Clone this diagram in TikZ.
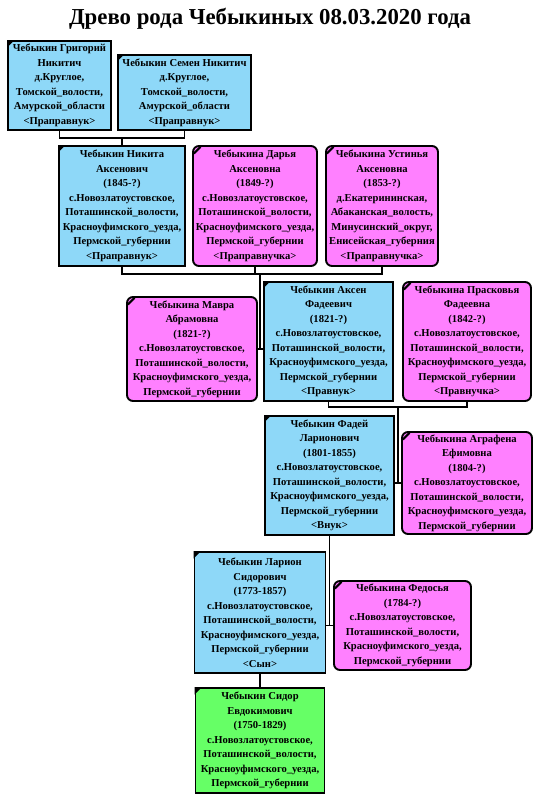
\documentclass[tikz,border=0pt]{standalone}
\usepackage{fontspec}
\setmainfont{Liberation Serif}
\definecolor{boyblue}{RGB}{142,216,248}
\definecolor{girlpink}{RGB}{255,128,255}
\definecolor{rootgreen}{RGB}{102,255,102}
\newcommand\permaddr{с.Новозлатоустовское,\\Поташинской\_волости,\\Красноуфимского\_уезда,\\Пермской\_губернии}
\newcommand\personfont{\fontsize{10.6}{14.5}\selectfont\bfseries}
\tikzset{
  person/.style={draw=black, line width=1.9pt, inner sep=0pt, align=center, font=\personfont},
  male/.style={person, fill=boyblue},
  female/.style={person, fill=girlpink, rounded corners=6pt},
  rootp/.style={person, fill=rootgreen},
  link/.style={draw=black, line width=1.5pt},
  titletext/.style={font=\fontsize{22.8}{26}\selectfont\bfseries}
}
\newcommand\mcorner[1]{\fill[black] (#1.north west) -- ++(7.5,0) -- ++(-7.5,7.5) -- cycle;}
\newcommand\fcorner[1]{\draw[black, line width=2.2pt, shift={(#1.north west)}] (1.8,8.5) -- (8.5,1.8);}
\begin{document}
\begin{tikzpicture}[x=1pt, y=-1pt]
\useasboundingbox[fill=white] (0,0) rectangle (540,800);
\node[titletext] (title) at (270,18.5) {Древо рода Чебыкиных 08.03.2020 года};

% row 1
\node[male, minimum width=103pt, minimum height=89pt] (grig) at (59.5,85.5)
  {Чебыкин Григорий\\Никитич\\д.Круглое,\\Томской\_волости,\\Амурской\_области\\\textless Праправнук\textgreater};
\node[male, minimum width=133pt, minimum height=75pt] (semen) at (184.5,92.5)
  {Чебыкин Семен Никитич\\д.Круглое,\\Томской\_волости,\\Амурской\_области\\\textless Праправнук\textgreater};

% row 2
\node[male, minimum width=126pt, minimum height=120pt] (nikita) at (122,206)
  {Чебыкин Никита\\Аксенович\\(1845-?)\\\permaddr\\\textless Праправнук\textgreater};
\node[female, minimum width=124pt, minimum height=120pt] (darya) at (255,206)
  {Чебыкина Дарья\\Аксеновна\\(1849-?)\\\permaddr\\\textless Праправнучка\textgreater};
\node[female, minimum width=112pt, minimum height=120pt] (ustin) at (382,206)
  {Чебыкина Устинья\\Аксеновна\\(1853-?)\\д.Екатерининская,\\Абаканская\_волость,\\Минусинский\_округ,\\Енисейская\_губерния\\\textless Праправнучка\textgreater};

% row 3
\node[female, minimum width=130pt, minimum height=104pt] (mavra) at (192,349)
  {Чебыкина Мавра\\Абрамовна\\(1821-?)\\\permaddr};
\node[male, minimum width=129pt, minimum height=119pt] (aksen) at (328.5,341.5)
  {Чебыкин Аксен\\Фадеевич\\(1821-?)\\\permaddr\\\textless Правнук\textgreater};
\node[female, minimum width=128pt, minimum height=119pt] (prask) at (467,341.5)
  {Чебыкина Прасковья\\Фадеевна\\(1842-?)\\\permaddr\\\textless Правнучка\textgreater};

% row 4
\node[male, minimum width=129pt, minimum height=119pt] (fadei) at (329.5,475.5)
  {Чебыкин Фадей\\Ларионович\\(1801-1855)\\\permaddr\\\textless Внук\textgreater};
\node[female, minimum width=130pt, minimum height=102pt] (agraf) at (467,483)
  {Чебыкина Аграфена\\Ефимовна\\(1804-?)\\\permaddr};

% row 5
\node[male, minimum width=131pt, minimum height=121pt] (larion) at (260,612.5)
  {Чебыкин Ларион\\Сидорович\\(1773-1857)\\\permaddr\\\textless Сын\textgreater};
\node[female, minimum width=137pt, minimum height=89pt] (fedos) at (402.5,625.5)
  {Чебыкина Федосья\\(1784-?)\\\permaddr};

% row 6
\node[rootp, minimum width=129pt, minimum height=105pt] (sidor) at (260,740.5)
  {Чебыкин Сидор\\Евдокимович\\(1750-1829)\\\permaddr};

% corner marks
\mcorner{grig}\mcorner{semen}\mcorner{nikita}\mcorner{aksen}\mcorner{fadei}\mcorner{larion}\mcorner{sidor}
\fcorner{darya}\fcorner{ustin}\fcorner{mavra}\fcorner{prask}\fcorner{agraf}\fcorner{fedos}

% connectors
\coordinate (j1) at (122,138);
\coordinate (j2) at (260,274);
\coordinate (j3) at (398,407);
\draw[link] (grig.south) |- (j1) -| (semen.south);
\draw[link] (j1) -- (nikita.north);
\draw[link] (nikita.south) |- (j2) -| (ustin.south);
\draw[link] (darya.south) -- (darya.south |- j2);
\draw[link] (j2) -- (j2 |- mavra.east);
\draw[link] (mavra.east) -- (mavra.east -| aksen.west);
\draw[link] (aksen.south) |- (j3) -| (prask.south);
\draw[link] (j3) -- (j3 |- agraf.west);
\draw[link] (agraf.west) -- (agraf.west -| fadei.east);
\draw[link] (fadei.south) -- (fadei.south |- fedos.west);
\draw[link] (fedos.west) -- (fedos.west -| larion.east);
\draw[link] (larion.south) -- (sidor.north);
\end{tikzpicture}
\end{document}
